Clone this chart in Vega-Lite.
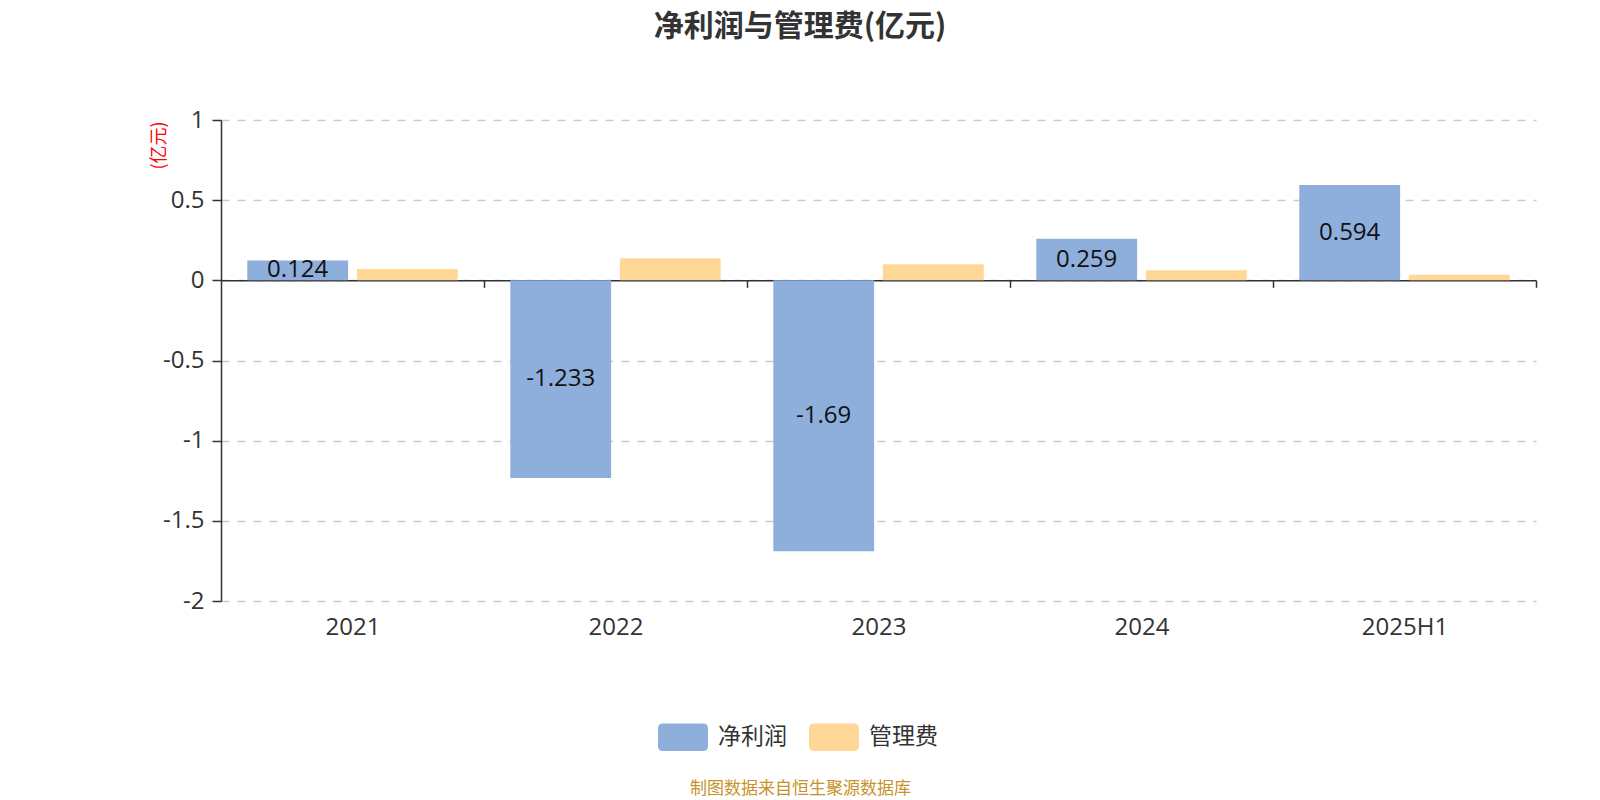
{
  "$schema": "https://vega.github.io/schema/vega-lite/v6.json",
  "width": 1315,
  "height": 481,
  "autosize": {"type": "none"},
  "padding": {"left": 221, "top": 120, "right": 64, "bottom": 199},
  "background": "white",
  "config": {
    "font": "Open Sans, Noto Sans CJK SC",
    "view": {"stroke": null}
  },
  "title": {
    "text": "净利润与管理费(亿元)",
    "fontSize": 30,
    "fontWeight": "bold",
    "color": "#333333",
    "font": "Noto Sans CJK SC",
    "anchor": "middle",
    "dx": -78.5,
    "offset": 66
  },
  "data": {
    "values": [
      {"year": "2021", "series": "净利润", "value": 0.124},
      {"year": "2021", "series": "管理费", "value": 0.07},
      {"year": "2022", "series": "净利润", "value": -1.233},
      {"year": "2022", "series": "管理费", "value": 0.137},
      {"year": "2023", "series": "净利润", "value": -1.69},
      {"year": "2023", "series": "管理费", "value": 0.101},
      {"year": "2024", "series": "净利润", "value": 0.259},
      {"year": "2024", "series": "管理费", "value": 0.063},
      {"year": "2025H1", "series": "净利润", "value": 0.594},
      {"year": "2025H1", "series": "管理费", "value": 0.035}
    ]
  },
  "encoding": {
    "x": {
      "field": "year",
      "type": "nominal",
      "sort": null,
      "scale": {"paddingInner": 0.2, "paddingOuter": 0.1},
      "axis": {
        "offset": -320.67,
        "domainColor": "#333333",
        "domainWidth": 1.5,
        "tickColor": "#333333",
        "tickWidth": 1.5,
        "tickSize": 7,
        "bandPosition": 1,
        "tickOffset": 26.3,
        "labelOffset": -26.3,
        "labelAngle": 0,
        "labelFontSize": 24,
        "labelColor": "#333333",
        "labelBaseline": "middle",
        "labelPadding": 340,
        "title": "制图数据来自恒生聚源数据库",
        "titleColor": "#c8922a",
        "titleFontSize": 17,
        "titleFontWeight": "normal",
        "titleFont": "Noto Sans CJK SC",
        "titleX": 579,
        "titleY": 508,
        "titleAlign": "center",
        "titleBaseline": "middle"
      }
    },
    "xOffset": {"field": "series", "type": "nominal", "scale": {"paddingInner": 0.08}},
    "y": {
      "field": "value",
      "type": "quantitative",
      "scale": {"domain": [-2, 1], "nice": false, "zero": false},
      "axis": {
        "values": [1, 0.5, 0, -0.5, -1, -1.5, -2],
        "labelExpr": "datum.value + ''",
        "labelFontSize": 24,
        "labelColor": "#333333",
        "labelPadding": 8,
        "tickSize": 9,
        "tickColor": "#333333",
        "tickWidth": 1.5,
        "domainColor": "#333333",
        "domainWidth": 1.5,
        "grid": true,
        "gridColor": "#cccccc",
        "gridDash": [8, 8],
        "gridWidth": 1.5,
        "title": "(亿元)",
        "titleColor": "#ff0000",
        "titleFontSize": 18,
        "titleFontWeight": "normal",
        "titleFont": "Noto Sans CJK SC",
        "titleAngle": 270,
        "titleX": -61.5,
        "titleY": 25,
        "titleAlign": "center",
        "titleBaseline": "middle"
      }
    }
  },
  "layer": [
    {
      "mark": {"type": "bar"},
      "encoding": {
        "color": {
          "field": "series",
          "type": "nominal",
          "scale": {"domain": ["净利润", "管理费"], "range": ["#8eaedb", "#ffd897"]},
          "legend": {
            "title": null,
            "orient": "none",
            "direction": "horizontal",
            "legendX": 437,
            "legendY": 592,
            "symbolType": "M-0.8,-0.55L0.8,-0.55Q1,-0.55,1,-0.35L1,0.35Q1,0.55,0.8,0.55L-0.8,0.55Q-1,0.55,-1,0.35L-1,-0.35Q-1,-0.55,-0.8,-0.55Z",
            "symbolSize": 2500,
            "symbolStrokeWidth": 0,
            "symbolOpacity": 1,
            "labelFontSize": 23,
            "labelColor": "#333333",
            "labelFont": "Noto Sans CJK SC",
            "labelOffset": 10,
            "columnPadding": 22
          }
        }
      }
    },
    {
      "transform": [
        {"filter": "datum.series === '净利润'"},
        {"calculate": "datum.value / 2", "as": "mid"}
      ],
      "mark": {"type": "text", "fontSize": 24, "color": "#111111", "baseline": "middle"},
      "encoding": {
        "y": {"field": "mid", "type": "quantitative"},
        "text": {"field": "value", "type": "nominal"}
      }
    }
  ]
}
